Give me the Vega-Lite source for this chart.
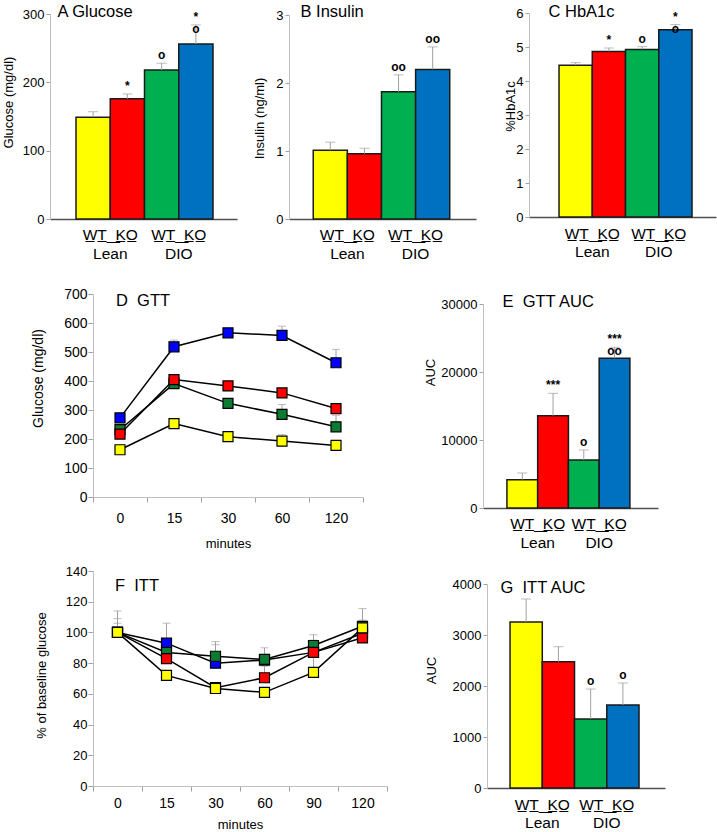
{
  "$schema": "https://vega.github.io/schema/vega-lite/v6.json",
  "width": 717,
  "height": 832,
  "autosize": {"type": "none"},
  "padding": 0,
  "config": {
    "font": "Liberation Sans",
    "view": {"stroke": null},
    "text": {"font": "Liberation Sans"},
    "axis": {
      "labelFont": "Liberation Sans",
      "titleFont": "Liberation Sans",
      "labelColor": "black",
      "titleColor": "black",
      "titleFontWeight": "normal",
      "grid": false,
      "labelFlush": false,
      "labelOverlap": false,
      "domainColor": "#c0c0c0",
      "tickColor": "#a0a0a0"
    }
  },
  "datasets": {
    "A": [
      {"grp": "Lean", "geno": "WT", "series": "Lean WT", "v": 149, "err": 157, "sig": ""},
      {"grp": "Lean", "geno": "KO", "series": "Lean KO", "v": 176, "err": 183, "sig": "*"},
      {"grp": "DIO", "geno": "WT", "series": "DIO WT", "v": 218, "err": 228, "sig": "o"},
      {"grp": "DIO", "geno": "KO", "series": "DIO KO", "v": 256, "err": 284, "sig": "*\no"}
    ],
    "B": [
      {"grp": "Lean", "geno": "WT", "series": "Lean WT", "v": 1.01, "err": 1.13, "sig": ""},
      {"grp": "Lean", "geno": "KO", "series": "Lean KO", "v": 0.96, "err": 1.04, "sig": ""},
      {"grp": "DIO", "geno": "WT", "series": "DIO WT", "v": 1.87, "err": 2.12, "sig": "oo"},
      {"grp": "DIO", "geno": "KO", "series": "DIO KO", "v": 2.2, "err": 2.53, "sig": "oo"}
    ],
    "C": [
      {"grp": "Lean", "geno": "WT", "series": "Lean WT", "v": 4.46, "err": 4.54, "sig": ""},
      {"grp": "Lean", "geno": "KO", "series": "Lean KO", "v": 4.87, "err": 4.97, "sig": "*"},
      {"grp": "DIO", "geno": "WT", "series": "DIO WT", "v": 4.93, "err": 5.01, "sig": "o"},
      {"grp": "DIO", "geno": "KO", "series": "DIO KO", "v": 5.51, "err": 5.66, "sig": "*\no"}
    ],
    "E": [
      {"grp": "Lean", "geno": "WT", "series": "Lean WT", "v": 4170, "err": 5150, "sig": ""},
      {"grp": "Lean", "geno": "KO", "series": "Lean KO", "v": 13580, "err": 16860, "sig": "***"},
      {"grp": "DIO", "geno": "WT", "series": "DIO WT", "v": 7060, "err": 8530, "sig": "o"},
      {"grp": "DIO", "geno": "KO", "series": "DIO KO", "v": 22010, "err": 23630, "sig": "***\noo"}
    ],
    "G": [
      {"grp": "Lean", "geno": "WT", "series": "Lean WT", "v": 3255, "err": 3706, "sig": ""},
      {"grp": "Lean", "geno": "KO", "series": "Lean KO", "v": 2477, "err": 2771, "sig": ""},
      {"grp": "DIO", "geno": "WT", "series": "DIO WT", "v": 1353, "err": 1941, "sig": "o"},
      {"grp": "DIO", "geno": "KO", "series": "DIO KO", "v": 1627, "err": 2059, "sig": "o"}
    ],
    "D": [
      {"series": "DIO KO", "t": 0, "v": 273, "err": 283},
      {"series": "DIO KO", "t": 15, "v": 518, "err": 541},
      {"series": "DIO KO", "t": 30, "v": 566, "err": 575},
      {"series": "DIO KO", "t": 60, "v": 557, "err": 589},
      {"series": "DIO KO", "t": 120, "v": 463, "err": 509},
      {"series": "DIO WT", "t": 0, "v": 232, "err": 244},
      {"series": "DIO WT", "t": 15, "v": 391, "err": 400},
      {"series": "DIO WT", "t": 30, "v": 323, "err": 335},
      {"series": "DIO WT", "t": 60, "v": 285, "err": 319},
      {"series": "DIO WT", "t": 120, "v": 242, "err": 282},
      {"series": "Lean KO", "t": 0, "v": 217, "err": 228},
      {"series": "Lean KO", "t": 15, "v": 405, "err": 412},
      {"series": "Lean KO", "t": 30, "v": 383, "err": 392},
      {"series": "Lean KO", "t": 60, "v": 359, "err": 369},
      {"series": "Lean KO", "t": 120, "v": 305, "err": 318},
      {"series": "Lean WT", "t": 0, "v": 163, "err": 170},
      {"series": "Lean WT", "t": 15, "v": 253, "err": 260},
      {"series": "Lean WT", "t": 30, "v": 208, "err": 215},
      {"series": "Lean WT", "t": 60, "v": 193, "err": 215},
      {"series": "Lean WT", "t": 120, "v": 178, "err": 186}
    ],
    "F": [
      {"series": "DIO KO", "t": 0, "v": 100, "err": 114},
      {"series": "DIO KO", "t": 15, "v": 93, "err": 106},
      {"series": "DIO KO", "t": 30, "v": 80, "err": 92},
      {"series": "DIO KO", "t": 60, "v": 82, "err": 85},
      {"series": "DIO KO", "t": 90, "v": 87, "err": 90},
      {"series": "DIO KO", "t": 120, "v": 99.5, "err": 115.5},
      {"series": "DIO WT", "t": 0, "v": 100, "err": 109},
      {"series": "DIO WT", "t": 15, "v": 87, "err": 90},
      {"series": "DIO WT", "t": 30, "v": 84.5, "err": 94},
      {"series": "DIO WT", "t": 60, "v": 82.4, "err": 90},
      {"series": "DIO WT", "t": 90, "v": 91.5, "err": 98.5},
      {"series": "DIO WT", "t": 120, "v": 104, "err": 108},
      {"series": "Lean KO", "t": 0, "v": 100, "err": 106},
      {"series": "Lean KO", "t": 15, "v": 83, "err": 86},
      {"series": "Lean KO", "t": 30, "v": 64, "err": 67},
      {"series": "Lean KO", "t": 60, "v": 70.5, "err": 78},
      {"series": "Lean KO", "t": 90, "v": 87, "err": 95},
      {"series": "Lean KO", "t": 120, "v": 96.5, "err": 99},
      {"series": "Lean WT", "t": 0, "v": 100, "err": 103},
      {"series": "Lean WT", "t": 15, "v": 72, "err": 74},
      {"series": "Lean WT", "t": 30, "v": 63.5, "err": 65},
      {"series": "Lean WT", "t": 60, "v": 61, "err": 64},
      {"series": "Lean WT", "t": 90, "v": 74, "err": 84},
      {"series": "Lean WT", "t": 120, "v": 103, "err": 106}
    ]
  },
  "layer": [
    {
      "data": {"name": "A"},
      "encoding": {
        "x": {"field": "grp", "type": "nominal", "scale": {"type": "band", "domain": ["Lean", "DIO"], "range": [50, 237], "paddingInner": 0, "paddingOuter": 0.365, "align": 0.52},
          "axis": {"orient": "bottom", "offset": -613, "domainColor": "#505050", "domainWidth": 1.5, "ticks": false, "tickSize": 0, "labelFontSize": 15.5, "labelPadding": 8, "labelLineHeight": 19, "labelAngle": 0, "labelExpr": "['W\u0332T\u0332\u00a0\u0332\u00a0\u0332K\u0332O\u0332', datum.label]", "title": "A Glucose", "titleFontSize": 16.5, "titleX": 57, "titleY": -208, "titleAlign": "left", "titleBaseline": "middle"}},
        "xOffset": {"field": "geno", "type": "nominal", "scale": {"domain": ["WT", "KO"], "paddingInner": 0, "paddingOuter": 0}},
        "y": {"field": "v", "type": "quantitative", "scale": {"domain": [0, 300], "range": [219, 14], "nice": false},
          "axis": {"orient": "left", "offset": -50, "values": [0, 100, 200, 300], "tickSize": 4, "labelFontSize": 13, "labelPadding": 2, "title": "Glucose (mg/dl)", "titleFontSize": 13, "titleX": -42, "titleY": 102, "titleBaseline": "middle"}}
      },
      "layer": [
        {"mark": {"type": "bar", "stroke": "#1a1a1a", "strokeWidth": 1.5},
          "encoding": {"color": {"field": "series", "type": "nominal", "scale": {"domain": ["Lean WT", "Lean KO", "DIO WT", "DIO KO"], "range": ["#FFFF00", "#FF0000", "#00B050", "#0070C0"]}, "legend": null}}},
        {"mark": {"type": "rule", "color": "#a0a0a0", "strokeWidth": 1},
          "encoding": {"y2": {"field": "err"}}},
        {"mark": {"type": "tick", "orient": "horizontal", "size": 10, "thickness": 1, "color": "#a0a0a0"},
          "encoding": {"y": {"field": "err", "type": "quantitative"}}},
        {"mark": {"type": "text", "fontSize": 12, "fontWeight": "bold", "baseline": "bottom", "dy": -1, "lineBreak": "\n", "lineHeight": 12},
          "encoding": {"y": {"field": "err", "type": "quantitative"}, "text": {"field": "sig"}}}
      ]
    },
    {
      "data": {"name": "B"},
      "encoding": {
        "x": {"field": "grp", "type": "nominal", "scale": {"type": "band", "domain": ["Lean", "DIO"], "range": [289, 476], "paddingInner": 0, "paddingOuter": 0.37, "align": 0.48},
          "axis": {"orient": "bottom", "offset": -613, "domainColor": "#505050", "domainWidth": 1.5, "ticks": false, "tickSize": 0, "labelFontSize": 15.5, "labelPadding": 8, "labelLineHeight": 19, "labelAngle": 0, "labelExpr": "['W\u0332T\u0332\u00a0\u0332\u00a0\u0332K\u0332O\u0332', datum.label]", "title": "B Insulin", "titleFontSize": 16.5, "titleX": 300, "titleY": -207.5, "titleAlign": "left", "titleBaseline": "middle"}},
        "xOffset": {"field": "geno", "type": "nominal", "scale": {"domain": ["WT", "KO"], "paddingInner": 0, "paddingOuter": 0}},
        "y": {"field": "v", "type": "quantitative", "scale": {"domain": [0, 3], "range": [219, 15], "nice": false},
          "axis": {"orient": "left", "offset": -289, "values": [0, 1, 2, 3], "tickSize": 4, "labelFontSize": 13, "labelPadding": 2, "title": "Insulin (ng/ml)", "titleFontSize": 13, "titleX": -30, "titleY": 118, "titleBaseline": "middle"}}
      },
      "layer": [
        {"mark": {"type": "bar", "stroke": "#1a1a1a", "strokeWidth": 1.5},
          "encoding": {"color": {"field": "series", "type": "nominal", "scale": {"domain": ["Lean WT", "Lean KO", "DIO WT", "DIO KO"], "range": ["#FFFF00", "#FF0000", "#00B050", "#0070C0"]}, "legend": null}}},
        {"mark": {"type": "rule", "color": "#a0a0a0", "strokeWidth": 1},
          "encoding": {"y2": {"field": "err"}}},
        {"mark": {"type": "tick", "orient": "horizontal", "size": 10, "thickness": 1, "color": "#a0a0a0"},
          "encoding": {"y": {"field": "err", "type": "quantitative"}}},
        {"mark": {"type": "text", "fontSize": 12, "fontWeight": "bold", "baseline": "bottom", "dy": -1, "lineBreak": "\n", "lineHeight": 12},
          "encoding": {"y": {"field": "err", "type": "quantitative"}, "text": {"field": "sig"}}}
      ]
    },
    {
      "data": {"name": "C"},
      "encoding": {
        "x": {"field": "grp", "type": "nominal", "scale": {"type": "band", "domain": ["Lean", "DIO"], "range": [529, 716], "paddingInner": 0, "paddingOuter": 0.406, "align": 0.556},
          "axis": {"orient": "bottom", "offset": -615, "domainColor": "#505050", "domainWidth": 1.5, "ticks": false, "tickSize": 0, "labelFontSize": 15.5, "labelPadding": 9, "labelLineHeight": 18.5, "labelAngle": 0, "labelExpr": "['W\u0332T\u0332\u00a0\u0332\u00a0\u0332K\u0332O\u0332', datum.label]", "title": "C HbA1c", "titleFontSize": 16.5, "titleX": 548, "titleY": -206, "titleAlign": "left", "titleBaseline": "middle"}},
        "xOffset": {"field": "geno", "type": "nominal", "scale": {"domain": ["WT", "KO"], "paddingInner": 0, "paddingOuter": 0}},
        "y": {"field": "v", "type": "quantitative", "scale": {"domain": [0, 6], "range": [217, 13], "nice": false},
          "axis": {"orient": "left", "offset": -529, "values": [0, 1, 2, 3, 4, 5, 6], "tickSize": 4, "labelFontSize": 13, "labelPadding": 2, "title": "%HbA1c", "titleFontSize": 13, "titleX": -19, "titleY": 106, "titleBaseline": "middle"}}
      },
      "layer": [
        {"mark": {"type": "bar", "stroke": "#1a1a1a", "strokeWidth": 1.5},
          "encoding": {"color": {"field": "series", "type": "nominal", "scale": {"domain": ["Lean WT", "Lean KO", "DIO WT", "DIO KO"], "range": ["#FFFF00", "#FF0000", "#00B050", "#0070C0"]}, "legend": null}}},
        {"mark": {"type": "rule", "color": "#a0a0a0", "strokeWidth": 1},
          "encoding": {"y2": {"field": "err"}}},
        {"mark": {"type": "tick", "orient": "horizontal", "size": 10, "thickness": 1, "color": "#a0a0a0"},
          "encoding": {"y": {"field": "err", "type": "quantitative"}}},
        {"mark": {"type": "text", "fontSize": 12, "fontWeight": "bold", "baseline": "bottom", "dy": -1, "lineBreak": "\n", "lineHeight": 12},
          "encoding": {"y": {"field": "err", "type": "quantitative"}, "text": {"field": "sig"}}}
      ]
    },
    {
      "data": {"name": "E"},
      "encoding": {
        "x": {"field": "grp", "type": "nominal", "scale": {"type": "band", "domain": ["Lean", "DIO"], "range": [483, 658], "paddingInner": 0, "paddingOuter": 0.423, "align": 0.46},
          "axis": {"orient": "bottom", "offset": -324, "domainColor": "#505050", "domainWidth": 1.5, "ticks": false, "tickSize": 0, "labelFontSize": 15.5, "labelPadding": 8, "labelLineHeight": 19, "labelAngle": 0, "labelExpr": "['W\u0332T\u0332\u00a0\u0332\u00a0\u0332K\u0332O\u0332', datum.label]", "title": "E\u00a0\u00a0GTT AUC", "titleFontSize": 16.5, "titleX": 502, "titleY": -206.5, "titleAlign": "left", "titleBaseline": "middle"}},
        "xOffset": {"field": "geno", "type": "nominal", "scale": {"domain": ["WT", "KO"], "paddingInner": 0, "paddingOuter": 0}},
        "y": {"field": "v", "type": "quantitative", "scale": {"domain": [0, 30000], "range": [508, 304], "nice": false},
          "axis": {"orient": "left", "offset": -483, "values": [0, 10000, 20000, 30000], "format": "d", "tickSize": 4, "labelFontSize": 13, "labelPadding": 2, "title": "AUC", "titleFontSize": 13, "titleX": -53, "titleY": 372, "titleBaseline": "middle"}}
      },
      "layer": [
        {"mark": {"type": "bar", "stroke": "#1a1a1a", "strokeWidth": 1.5},
          "encoding": {"color": {"field": "series", "type": "nominal", "scale": {"domain": ["Lean WT", "Lean KO", "DIO WT", "DIO KO"], "range": ["#FFFF00", "#FF0000", "#00B050", "#0070C0"]}, "legend": null}}},
        {"mark": {"type": "rule", "color": "#a0a0a0", "strokeWidth": 1},
          "encoding": {"y2": {"field": "err"}}},
        {"mark": {"type": "tick", "orient": "horizontal", "size": 10, "thickness": 1, "color": "#a0a0a0"},
          "encoding": {"y": {"field": "err", "type": "quantitative"}}},
        {"mark": {"type": "text", "fontSize": 12, "fontWeight": "bold", "baseline": "bottom", "dy": -1, "lineBreak": "\n", "lineHeight": 12},
          "encoding": {"y": {"field": "err", "type": "quantitative"}, "text": {"field": "sig"}}}
      ]
    },
    {
      "data": {"name": "G"},
      "encoding": {
        "x": {"field": "grp", "type": "nominal", "scale": {"type": "band", "domain": ["Lean", "DIO"], "range": [487, 665], "paddingInner": 0, "paddingOuter": 0.38, "align": 0.47},
          "axis": {"orient": "bottom", "offset": -44, "domainColor": "#505050", "domainWidth": 1.5, "ticks": false, "tickSize": 0, "labelFontSize": 15.5, "labelPadding": 9, "labelLineHeight": 18, "labelAngle": 0, "labelExpr": "['W\u0332T\u0332\u00a0\u0332\u00a0\u0332K\u0332O\u0332', datum.label]", "title": "G\u00a0\u00a0ITT AUC", "titleFontSize": 16.5, "titleX": 500, "titleY": -201, "titleAlign": "left", "titleBaseline": "middle"}},
        "xOffset": {"field": "geno", "type": "nominal", "scale": {"domain": ["WT", "KO"], "paddingInner": 0, "paddingOuter": 0}},
        "y": {"field": "v", "type": "quantitative", "scale": {"domain": [0, 4000], "range": [788, 584], "nice": false},
          "axis": {"orient": "left", "offset": -487, "values": [0, 1000, 2000, 3000, 4000], "format": "d", "tickSize": 4, "labelFontSize": 13, "labelPadding": 2, "title": "AUC", "titleFontSize": 13, "titleX": -56, "titleY": 670, "titleBaseline": "middle"}}
      },
      "layer": [
        {"mark": {"type": "bar", "stroke": "#1a1a1a", "strokeWidth": 1.5},
          "encoding": {"color": {"field": "series", "type": "nominal", "scale": {"domain": ["Lean WT", "Lean KO", "DIO WT", "DIO KO"], "range": ["#FFFF00", "#FF0000", "#00B050", "#0070C0"]}, "legend": null}}},
        {"mark": {"type": "rule", "color": "#a0a0a0", "strokeWidth": 1},
          "encoding": {"y2": {"field": "err"}}},
        {"mark": {"type": "tick", "orient": "horizontal", "size": 10, "thickness": 1, "color": "#a0a0a0"},
          "encoding": {"y": {"field": "err", "type": "quantitative"}}},
        {"mark": {"type": "text", "fontSize": 12, "fontWeight": "bold", "baseline": "bottom", "dy": -1, "lineBreak": "\n", "lineHeight": 12},
          "encoding": {"y": {"field": "err", "type": "quantitative"}, "text": {"field": "sig"}}}
      ]
    },
    {
      "data": {"name": "D"},
      "encoding": {
        "x": {"field": "t", "type": "ordinal", "scale": {"type": "band", "domain": [0, 15, 30, 60, 120], "range": [93, 363], "paddingInner": 0, "paddingOuter": 0},
          "axis": {"orient": "bottom", "offset": -335, "tickBand": "extent", "tickSize": 5, "labelAngle": 0, "labelFontSize": 14, "labelPadding": 9, "title": "minutes", "titleFontSize": 13, "titleY": 46, "titleBaseline": "middle"}},
        "y": {"field": "v", "type": "quantitative", "scale": {"domain": [0, 700], "range": [497, 294], "nice": false},
          "axis": {"orient": "left", "offset": -93, "values": [0, 100, 200, 300, 400, 500, 600, 700], "tickSize": 5, "labelFontSize": 14, "labelPadding": 1, "title": "Glucose (mg/dl)", "titleFontSize": 14, "titleX": -55, "titleY": 378, "titleBaseline": "middle"}}
      },
      "layer": [
        {"mark": {"type": "rule", "color": "#a0a0a0", "strokeWidth": 1},
          "encoding": {"y2": {"field": "err"}, "detail": {"field": "series"}}},
        {"mark": {"type": "tick", "orient": "horizontal", "size": 8, "thickness": 1, "color": "#a0a0a0"},
          "encoding": {"y": {"field": "err", "type": "quantitative"}, "detail": {"field": "series"}}},
        {"mark": {"type": "line", "color": "black", "strokeWidth": 1.5},
          "encoding": {"detail": {"field": "series"}}},
        {"mark": {"type": "point", "shape": "square", "filled": true, "size": 100, "stroke": "black", "strokeWidth": 1.2, "opacity": 1},
          "encoding": {"color": {"field": "series", "type": "nominal", "scale": {"domain": ["Lean WT", "Lean KO", "DIO WT", "DIO KO"], "range": ["#FFFF00", "#FF0000", "#0A7D32", "#0000FF"]}, "legend": null}}},
        {"transform": [{"filter": "datum.series == 'DIO KO' && datum.t == 0"}],
          "mark": {"type": "text", "fontSize": 16.5, "align": "left", "baseline": "middle", "dx": -4},
          "encoding": {"y": {"datum": 676, "type": "quantitative"}, "text": {"value": "D\u00a0\u00a0GTT"}}}
      ]
    },
    {
      "data": {"name": "F"},
      "encoding": {
        "x": {"field": "t", "type": "ordinal", "scale": {"type": "band", "domain": [0, 15, 30, 60, 90, 120], "range": [93, 387], "paddingInner": 0, "paddingOuter": 0},
          "axis": {"orient": "bottom", "offset": -46, "tickBand": "extent", "tickSize": 5, "labelAngle": 0, "labelFontSize": 14, "labelPadding": 5, "title": "minutes", "titleFontSize": 13, "titleY": 38, "titleBaseline": "middle"}},
        "y": {"field": "v", "type": "quantitative", "scale": {"domain": [0, 140], "range": [786, 571], "nice": false},
          "axis": {"orient": "left", "offset": -93, "values": [0, 20, 40, 60, 80, 100, 120, 140], "tickSize": 5, "labelFontSize": 13, "labelPadding": 1, "title": "% of baseline glucose", "titleFontSize": 13, "titleX": -52, "titleY": 675, "titleBaseline": "middle"}}
      },
      "layer": [
        {"mark": {"type": "rule", "color": "#a0a0a0", "strokeWidth": 1},
          "encoding": {"y2": {"field": "err"}, "detail": {"field": "series"}}},
        {"mark": {"type": "tick", "orient": "horizontal", "size": 8, "thickness": 1, "color": "#a0a0a0"},
          "encoding": {"y": {"field": "err", "type": "quantitative"}, "detail": {"field": "series"}}},
        {"mark": {"type": "line", "color": "black", "strokeWidth": 1.5},
          "encoding": {"detail": {"field": "series"}}},
        {"mark": {"type": "point", "shape": "square", "filled": true, "size": 100, "stroke": "black", "strokeWidth": 1.2, "opacity": 1},
          "encoding": {"color": {"field": "series", "type": "nominal", "scale": {"domain": ["Lean WT", "Lean KO", "DIO WT", "DIO KO"], "range": ["#FFFF00", "#FF0000", "#0A7D32", "#0000FF"]}, "legend": null}}},
        {"transform": [{"filter": "datum.series == 'DIO KO' && datum.t == 0"}],
          "mark": {"type": "text", "fontSize": 16.5, "align": "left", "baseline": "middle", "dx": -2.5},
          "encoding": {"y": {"datum": 130, "type": "quantitative"}, "text": {"value": "F\u00a0\u00a0ITT"}}}
      ]
    }
  ],
  "resolve": {
    "scale": {"x": "independent", "y": "independent", "xOffset": "independent", "color": "independent"},
    "axis": {"x": "independent", "y": "independent"},
    "legend": {"color": "independent"}
  }
}
